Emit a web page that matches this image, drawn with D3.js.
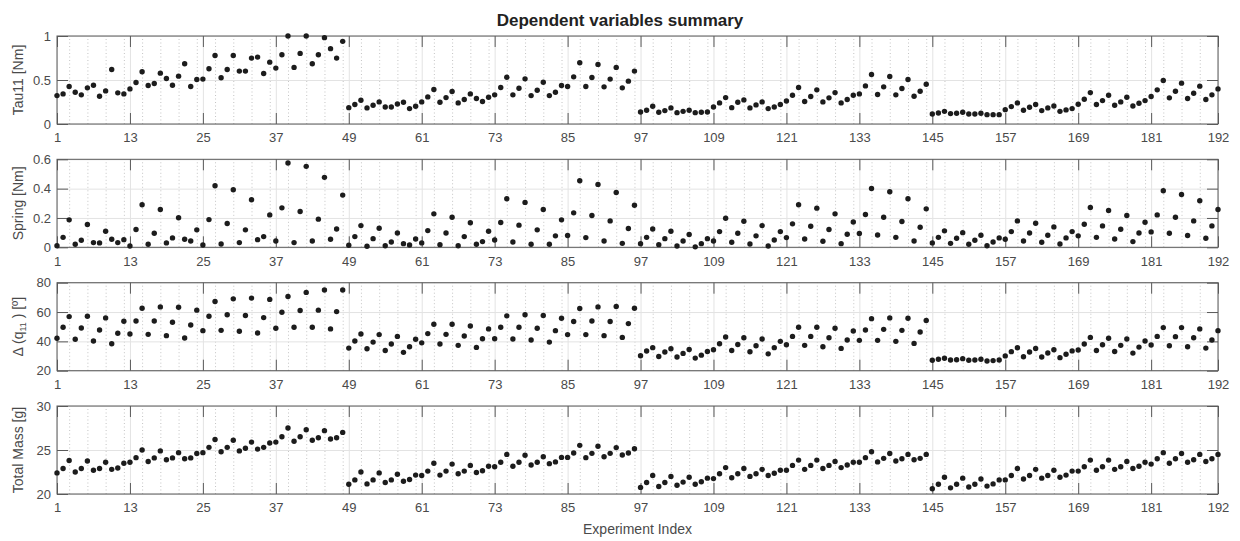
<!DOCTYPE html>
<html>
<head>
<meta charset="utf-8">
<script src="https://cdn.jsdelivr.net/npm/d3@7"></script>
<style>
  body { margin: 0; background: #fff; }
  svg { font-family: "Liberation Sans", Arial, Helvetica, sans-serif; }
</style>
</head>
<body>
<div id="chart"></div>
<script>
// values, one entry per experiment (1..192)
const tau11 = [
  0.323,0.342,0.426,0.361,0.331,0.411,0.441,0.316,0.376,0.620,0.354,0.342,
  0.399,0.471,0.593,0.437,0.460,0.578,0.517,0.441,0.544,0.684,0.426,0.506,
  0.510,0.627,0.779,0.525,0.620,0.779,0.601,0.601,0.749,0.760,0.574,0.703,
  0.635,0.787,1.000,0.643,0.802,1.000,0.684,0.787,0.981,0.856,0.749,0.939,
  0.186,0.221,0.270,0.183,0.213,0.251,0.194,0.194,0.228,0.247,0.175,0.202,
  0.251,0.308,0.392,0.247,0.300,0.369,0.240,0.278,0.342,0.289,0.255,0.304,
  0.331,0.414,0.532,0.331,0.407,0.513,0.323,0.384,0.475,0.323,0.361,0.437,
  0.426,0.536,0.696,0.426,0.529,0.677,0.422,0.510,0.643,0.411,0.487,0.601,
  0.137,0.156,0.202,0.133,0.152,0.183,0.129,0.144,0.156,0.129,0.133,0.137,
  0.194,0.240,0.300,0.186,0.247,0.274,0.183,0.217,0.251,0.175,0.194,0.221,
  0.262,0.327,0.414,0.255,0.312,0.388,0.251,0.297,0.357,0.240,0.278,0.327,
  0.342,0.433,0.563,0.335,0.422,0.540,0.331,0.403,0.506,0.316,0.373,0.452,
  0.114,0.125,0.144,0.118,0.122,0.133,0.114,0.114,0.122,0.106,0.106,0.106,
  0.163,0.198,0.240,0.156,0.190,0.221,0.152,0.183,0.205,0.144,0.160,0.175,
  0.224,0.281,0.357,0.221,0.266,0.327,0.213,0.251,0.304,0.205,0.236,0.266,
  0.312,0.388,0.494,0.297,0.373,0.464,0.289,0.350,0.430,0.278,0.331,0.399
];

const spring = [
  0.011,0.068,0.187,0.021,0.048,0.155,0.032,0.030,0.109,0.055,0.032,0.052,
  0.009,0.121,0.290,0.021,0.096,0.258,0.030,0.064,0.201,0.055,0.043,0.119,
  0.016,0.189,0.420,0.023,0.162,0.392,0.032,0.119,0.324,0.052,0.073,0.221,
  0.043,0.269,0.575,0.032,0.244,0.552,0.043,0.192,0.477,0.055,0.125,0.356,
  0.014,0.073,0.148,0.007,0.059,0.130,0.011,0.036,0.098,0.025,0.016,0.057,
  0.030,0.114,0.228,0.018,0.098,0.205,0.011,0.073,0.167,0.021,0.039,0.109,
  0.050,0.169,0.331,0.036,0.151,0.306,0.021,0.119,0.258,0.021,0.078,0.187,
  0.080,0.235,0.454,0.066,0.217,0.429,0.043,0.180,0.374,0.027,0.128,0.287,
  0.025,0.068,0.125,0.018,0.059,0.109,0.009,0.043,0.087,0.003,0.025,0.059,
  0.043,0.107,0.198,0.034,0.096,0.178,0.023,0.078,0.148,0.009,0.050,0.107,
  0.066,0.160,0.290,0.057,0.144,0.267,0.041,0.121,0.228,0.025,0.089,0.173,
  0.094,0.224,0.401,0.084,0.205,0.379,0.068,0.176,0.331,0.043,0.137,0.262,
  0.030,0.068,0.112,0.027,0.062,0.100,0.021,0.048,0.082,0.011,0.036,0.064,
  0.055,0.107,0.180,0.043,0.098,0.164,0.034,0.082,0.139,0.023,0.064,0.107,
  0.078,0.157,0.271,0.068,0.146,0.251,0.057,0.123,0.217,0.039,0.098,0.171,
  0.105,0.221,0.386,0.096,0.205,0.360,0.080,0.180,0.317,0.062,0.146,0.258
];

const deltaQ11 = [
  42.1,49.6,56.9,41.4,49.1,57.1,40.2,47.8,56.0,38.4,45.5,53.7,
  45.0,53.9,62.6,44.8,53.9,63.5,43.9,53.0,63.3,42.3,51.2,61.3,
  47.3,57.1,67.2,47.5,58.1,69.0,46.9,57.6,69.5,45.7,56.2,68.6,
  48.9,59.9,70.6,49.6,61.0,73.4,49.6,61.3,75.0,48.5,60.3,75.0,
  35.4,40.2,45.0,35.0,39.5,44.6,33.8,38.2,43.4,32.5,36.3,41.4,
  39.0,45.3,51.7,38.2,44.8,51.7,37.3,43.7,50.5,35.9,41.8,48.5,
  41.8,49.6,57.4,41.6,49.6,58.1,40.9,48.9,57.6,39.5,47.3,55.8,
  44.6,53.5,62.4,44.6,53.9,63.5,43.9,53.5,63.8,42.7,52.1,62.6,
  30.2,33.4,35.7,29.7,32.7,35.0,29.3,31.8,34.5,28.6,30.6,33.1,
  34.3,38.4,43.0,33.8,37.9,42.5,32.9,37.0,41.6,31.5,35.7,40.0,
  37.7,43.4,49.6,37.3,43.4,49.6,36.3,42.5,48.9,35.2,40.9,47.1,
  40.7,47.8,55.5,40.7,48.2,56.0,40.0,47.5,55.8,38.6,46.4,54.2,
  27.1,27.8,28.5,27.3,27.5,28.2,27.1,27.3,27.8,26.6,26.9,27.3,
  30.1,33.0,35.6,29.5,32.8,35.1,29.3,32.1,34.3,28.9,31.2,33.5,
  34.1,38.2,42.7,33.8,37.7,42.1,33.1,37.3,41.6,32.0,36.1,40.2,
  37.5,43.4,49.4,37.0,43.2,49.4,36.3,42.5,48.5,35.4,40.9,47.3
];

const totalMass = [
  22.4,22.9,23.8,22.5,22.9,23.75,22.7,22.9,23.6,22.8,22.95,23.5,
  23.6,24.13,25.0,23.7,24.1,24.9,23.9,24.1,24.7,24.0,24.1,24.6,
  24.7,25.3,26.2,24.8,25.3,26.1,24.9,25.2,25.9,25.1,25.3,25.8,
  25.9,26.5,27.5,26.0,26.5,27.3,26.1,26.4,27.2,26.25,26.4,27.0,
  21.1,21.6,22.5,21.15,21.6,22.4,21.3,21.6,22.25,21.45,21.65,22.15,
  22.1,22.6,23.5,22.15,22.6,23.4,22.3,22.6,23.25,22.45,22.65,23.15,
  23.1,23.6,24.5,23.15,23.6,24.4,23.3,23.6,24.24,23.45,23.65,24.16,
  24.16,24.66,25.53,24.13,24.62,25.42,24.24,24.62,25.27,24.43,24.66,25.15,
  20.75,21.3,22.1,20.85,21.3,22.0,21.0,21.35,21.9,21.1,21.4,21.8,
  21.75,22.3,23.0,21.85,22.3,22.9,22.0,22.3,22.8,22.1,22.35,22.7,
  22.7,23.25,23.85,22.8,23.25,23.85,22.9,23.25,23.7,23.0,23.3,23.6,
  23.6,24.13,24.8,23.65,24.05,24.6,23.75,24.0,24.5,23.9,24.05,24.5,
  20.6,21.1,21.9,20.7,21.1,21.8,20.8,21.1,21.7,20.9,21.15,21.6,
  21.6,22.1,22.9,21.7,22.1,22.8,21.8,22.1,22.7,21.9,22.15,22.6,
  22.6,23.1,23.85,22.7,23.1,23.85,22.8,23.1,23.7,22.9,23.15,23.6,
  23.4,24.0,24.7,23.5,24.0,24.6,23.6,23.9,24.5,23.7,24.0,24.5
];

const xTicks = [1,13,25,37,49,61,73,85,97,109,121,133,145,157,169,181,192];
const xMinorTicks = d3.range(3, 193, 3);
const tauTicks = [0, 0.5, 1];
const springTicks = [0, 0.2, 0.4, 0.6];
const deltaTicks = [20, 40, 60, 80];
const massTicks = [20, 25, 30];

const W = 1240, H = 541;
const left = 57, right = 1218, panelH = 88;
const panelTops = [36, 159.3, 282.7, 406];
const tickLen = 11;
const textCol = "#4a4a4a";

const panels = [
  { values: tau11, domain: [0, 1], ticks: tauTicks, label: "Tau11 [Nm]" },
  { values: spring, domain: [0, 0.6], ticks: springTicks, label: "Spring [Nm]" },
  { values: deltaQ11, domain: [20, 80], ticks: deltaTicks, label: null },
  { values: totalMass, domain: [20, 30], ticks: massTicks, label: "Total Mass [g]" }
];

const svg = d3.select("#chart").append("svg")
  .attr("width", W).attr("height", H);

const x = d3.scaleLinear().domain([1, 192]).range([left, right]);

panels.forEach((p, k) => {
  const top = panelTops[k];
  const y = d3.scaleLinear().domain(p.domain).range([top + panelH, top]);
  const g = svg.append("g");

  // minor dotted grid
  g.append("g")
    .attr("transform", `translate(0,${top + panelH})`)
    .call(d3.axisBottom(x).tickValues(xMinorTicks).tickSize(-panelH).tickFormat(""))
    .call(a => a.select(".domain").remove())
    .selectAll("line")
      .attr("stroke", "#c4c4c4")
      .attr("stroke-dasharray", "1,2.5");

  // major grid
  g.append("g")
    .attr("transform", `translate(0,${top + panelH})`)
    .call(d3.axisBottom(x).tickValues(xTicks).tickSize(-panelH).tickFormat(""))
    .call(a => a.select(".domain").remove())
    .selectAll("line").attr("stroke", "#e3e3e3");
  g.append("g")
    .attr("transform", `translate(${left},0)`)
    .call(d3.axisLeft(y).tickValues(p.ticks).tickSize(-(right - left)).tickFormat(""))
    .call(a => a.select(".domain").remove())
    .selectAll("line").attr("stroke", "#e3e3e3");

  // box
  g.append("rect")
    .attr("x", left).attr("y", top)
    .attr("width", right - left).attr("height", panelH)
    .attr("fill", "none").attr("stroke", "#5a5a5a").attr("stroke-width", 1);

  // inward ticks + labels
  const bottomAx = g.append("g")
    .attr("transform", `translate(0,${top + panelH})`)
    .call(d3.axisBottom(x).tickValues(xTicks).tickSize(-tickLen).tickPadding(9));
  const topAx = g.append("g")
    .attr("transform", `translate(0,${top})`)
    .call(d3.axisTop(x).tickValues(xTicks).tickSize(-tickLen).tickFormat(""));
  const leftAx = g.append("g")
    .attr("transform", `translate(${left},0)`)
    .call(d3.axisLeft(y).tickValues(p.ticks).tickSize(-tickLen).tickPadding(6).tickFormat(d => String(d)));
  const rightAx = g.append("g")
    .attr("transform", `translate(${right},0)`)
    .call(d3.axisRight(y).tickValues(p.ticks).tickSize(-tickLen).tickFormat(""));

  [bottomAx, topAx, leftAx, rightAx].forEach(a => {
    a.select(".domain").remove();
    a.selectAll("line").attr("stroke", "#5a5a5a");
    a.selectAll("text").attr("fill", textCol).attr("font-size", 13)
      .attr("font-family", "'Liberation Sans', Arial, sans-serif");
  });

  // points
  g.append("g").selectAll("circle")
    .data(p.values)
    .join("circle")
      .attr("cx", (d, i) => x(i + 1))
      .attr("cy", d => y(d))
      .attr("r", 2.7)
      .attr("fill", "#1c1c1c");

  // y label
  const yl = svg.append("text")
    .attr("transform", `translate(23,${top + panelH / 2}) rotate(-90)`)
    .attr("text-anchor", "middle")
    .attr("fill", textCol)
    .attr("font-size", 14);
  if (p.label) {
    yl.text(p.label);
  } else {
    yl.append("tspan").text("\u0394 (q");
    yl.append("tspan").attr("font-size", 9).attr("dy", 3).text("11");
    yl.append("tspan").attr("dy", -3).text(" ) [\u00ba]");
  }
});

// title and x label
svg.append("text")
  .attr("x", 620).attr("y", 26)
  .attr("text-anchor", "middle")
  .attr("font-weight", "bold")
  .attr("font-size", 17)
  .attr("fill", "#222")
  .text("Dependent variables summary");

svg.append("text")
  .attr("x", (left + right) / 2).attr("y", 534)
  .attr("text-anchor", "middle")
  .attr("font-size", 14)
  .attr("fill", textCol)
  .text("Experiment Index");
</script>
</body>
</html>
